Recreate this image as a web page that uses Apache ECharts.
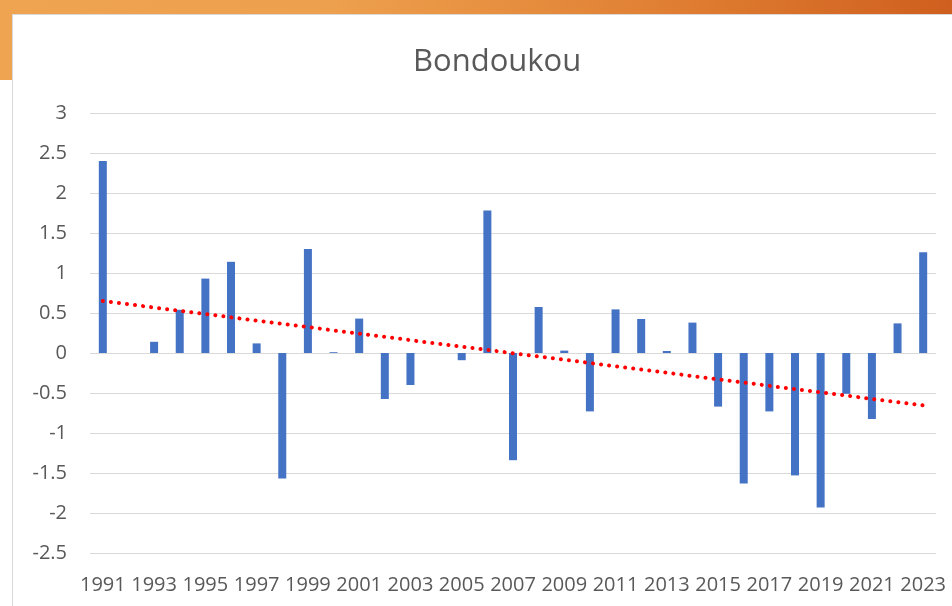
<!DOCTYPE html>
<html>
<head>
<meta charset="utf-8">
<script src="https://cdn.jsdelivr.net/npm/echarts@6/dist/echarts.min.js"></script>
<style>
  html, body { margin: 0; padding: 0; background: #fff; }
  #chart { width: 952px; height: 606px; }
</style>
</head>
<body>
<div id="chart"></div>
<script>
  // years on the x axis
  var years = [];
  for (var y = 1991; y <= 2023; y++) years.push(String(y));

  // bar values
  var anomalies = [
    2.40, 0, 0.14, 0.54, 0.93, 1.14, 0.12, -1.57, 1.30, 0.01,
    0.43, -0.575, -0.40, 0, -0.09, 1.78, -1.34, 0.575, 0.03, -0.73,
    0.545, 0.425, 0.025, 0.38, -0.67, -1.63, -0.73, -1.53, -1.93, -0.51,
    -0.825, 0.37, 1.26
  ];

  // trend line end points (as drawn in the picture)
  var trendYears = ['1991', '2023'];
  var trendValues = [0.65, -0.655];

  var chart = echarts.init(document.getElementById('chart'));

  var option = {
    animation: false,
    backgroundColor: '#ffffff',
    graphic: [
      {
        type: 'rect', z: -10, silent: true,
        shape: { x: 0, y: 0, width: 952, height: 14 },
        style: {
          fill: new echarts.graphic.LinearGradient(0, 0, 1, 0, [
            { offset: 0, color: '#EFA452' },
            { offset: 0.35, color: '#EDA04D' },
            { offset: 0.7, color: '#E07F33' },
            { offset: 1, color: '#CF5F1E' }
          ])
        }
      },
      {
        type: 'rect', z: -10, silent: true,
        shape: { x: 0, y: 0, width: 12, height: 80 },
        style: { fill: '#EFA452' }
      },
      {
        type: 'line', z: -9, silent: true,
        shape: { x1: 12, y1: 14.5, x2: 952, y2: 14.5 },
        style: { stroke: '#D9D9D9', lineWidth: 1 }
      },
      {
        type: 'line', z: -9, silent: true,
        shape: { x1: 12.5, y1: 14, x2: 12.5, y2: 606 },
        style: { stroke: '#D9D9D9', lineWidth: 1 }
      }
    ],
    title: {
      text: 'Bondoukou',
      left: 408,
      top: 42,
      textStyle: {
        fontFamily: 'Open Sans',
        fontSize: 31,
        fontWeight: 'normal',
        color: '#595959'
      }
    },
    grid: {
      left: 90,
      right: 16,
      top: 113,
      bottom: 53,
      containLabel: false
    },
    xAxis: {
      type: 'category',
      data: years,
      boundaryGap: true,
      axisLine: { show: false },
      axisTick: { show: false },
      axisLabel: {
        interval: 1,
        margin: 22,
        fontFamily: 'Open Sans',
        fontSize: 20,
        color: '#595959'
      },
      splitLine: { show: false }
    },
    yAxis: {
      type: 'value',
      min: -2.5,
      max: 3,
      interval: 0.5,
      axisLine: { show: false },
      axisTick: { show: false },
      axisLabel: {
        margin: 23,
        fontFamily: 'Open Sans',
        fontSize: 20,
        color: '#595959'
      },
      splitLine: { lineStyle: { color: '#D9D9D9', width: 1 } }
    },
    series: [
      {
        type: 'bar',
        data: anomalies,
        barWidth: 8,
        itemStyle: { color: '#4472C4' }
      },
      {
        type: 'line',
        data: trendYears.map(function (t, i) { return [t, trendValues[i]]; }),
        symbol: 'none',
        z: 5,
        lineStyle: {
          color: '#FF0000',
          width: 4,
          type: [0.1, 8],
          cap: 'round'
        }
      }
    ]
  };

  chart.setOption(option);
</script>
</body>
</html>
